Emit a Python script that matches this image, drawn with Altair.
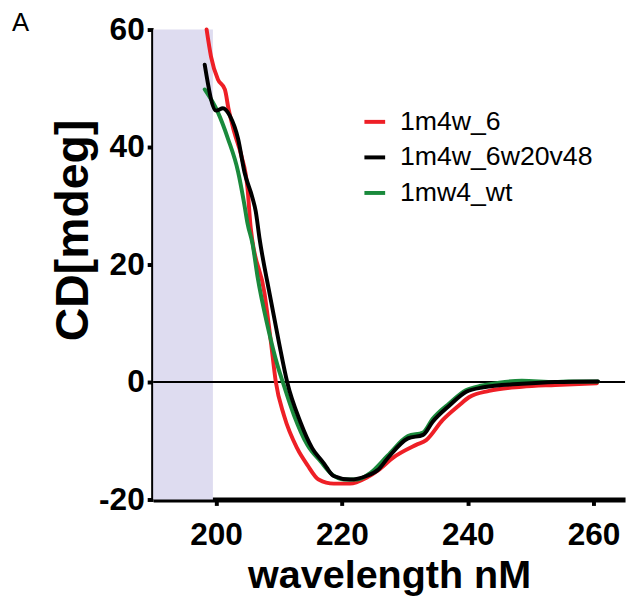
import altair as alt
import pandas as pd

# ---- data ----
names = ["1m4w_6", "1m4w_6w20v48", "1mw4_wt"]
colors = ["#ee1f26", "#000000", "#1a8a3c"]

red_nm = [198.5, 199.2, 200.3, 201.4, 202.0, 202.9, 204.0, 205.0, 205.5, 207.7, 208.7, 209.5,
          210.8, 212.9, 214.5, 216.3, 218.7, 221.3, 223.9, 225.8, 228.1, 231.8, 233.4, 236.0,
          238.6, 240.2, 243.4, 248.6, 253.9, 260.5]
red_cd = [60.0, 55.4, 51.5, 49.8, 46.4, 42.5, 38.6, 33.0, 26.3, 15.1, 7.0, 0.0,
          -5.7, -11.3, -14.1, -16.6, -17.3, -17.3, -16.3, -15.0, -12.9, -10.7, -9.9, -6.5,
          -4.0, -2.6, -1.5, -0.8, -0.5, -0.2]

black_nm = [198.2, 200.0, 201.1, 202.2, 203.5, 204.5, 205.8, 206.3, 206.9, 208.5, 210.0, 211.3,
            213.4, 215.3, 217.1, 217.6, 218.7, 221.3, 223.9, 225.8, 227.4, 230.5, 232.9, 234.4,
            237.1, 239.7, 242.5, 248.6, 253.9, 260.7]
black_cd = [54.0, 46.2, 46.6, 45.3, 41.4, 35.8, 31.3, 29.1, 24.5, 15.1, 6.7, 0.0,
            -6.8, -11.3, -13.8, -14.6, -16.0, -16.6, -16.0, -14.9, -12.8, -9.6, -9.0, -6.8,
            -4.0, -1.7, -0.9, -0.3, 0.0, 0.1]

green_nm = [198.2, 200.3, 201.9, 203.5, 204.5, 205.0, 205.8, 206.6, 208.2, 209.8, 210.6, 212.4,
            214.5, 216.6, 218.4, 220.3, 222.4, 224.5, 227.3, 230.5, 232.9, 234.4, 237.1, 239.7,
            242.3, 245.0, 248.6, 253.9, 256.0, 260.7]
green_cd = [49.8, 45.9, 41.4, 35.8, 30.2, 27.0, 23.5, 17.9, 9.5, 2.7, 0.0, -5.7,
            -10.7, -13.5, -15.7, -16.6, -16.6, -15.5, -12.5, -9.2, -8.6, -6.3, -3.6, -1.4,
            -0.6, -0.1, 0.2, 0.0, 0.1, 0.1]

x_ticks = [200, 220, 240, 260]
y_ticks = [-20, 0, 20, 40, 60]
x_domain = [190, 265]
y_domain = [-20, 60]
shade_start, shade_end = 190, 199.5
panel_label = "A"

FONT = "Liberation Sans"

frames = []
for nm_list, cd_list, name in [(red_nm, red_cd, names[0]),
                               (black_nm, black_cd, names[1]),
                               (green_nm, green_cd, names[2])]:
    frames.append(pd.DataFrame({"nm": nm_list, "cd": cd_list, "series": name}))
df = pd.concat(frames, ignore_index=True)

xenc = alt.X("nm:Q", scale=alt.Scale(domain=x_domain, nice=False, zero=False),
             axis=alt.Axis(values=x_ticks, title="wavelength nM", titleY=89,
                           titleBaseline="alphabetic", labelPadding=15))
yenc = alt.Y("cd:Q", scale=alt.Scale(domain=y_domain, nice=False, zero=False),
             axis=alt.Axis(values=y_ticks, title="CD[mdeg]", titleAngle=-90,
                           titleX=-80, titleY=203, titleAlign="center",
                           titleBaseline="middle", labelPadding=3, titleFontSize=47,
                           labelExpr="datum.value + ''"))

shade_df = pd.DataFrame({"x": [shade_start], "x2": [shade_end],
                         "y": [y_domain[0]], "y2": [y_domain[1]]})
shade = alt.Chart(shade_df).mark_rect(color="#dedcf0").encode(
    x=alt.X("x:Q", scale=alt.Scale(domain=x_domain, nice=False, zero=False)),
    x2="x2:Q",
    y=alt.Y("y:Q", scale=alt.Scale(domain=y_domain, nice=False, zero=False)),
    y2="y2:Q",
)

zero = alt.Chart(pd.DataFrame({"cd": [0]})).mark_rule(color="black", strokeWidth=2).encode(
    y=alt.Y("cd:Q", scale=alt.Scale(domain=y_domain, nice=False, zero=False))
)

label = alt.Chart(pd.DataFrame({"t": [panel_label]})).mark_text(
    font=FONT, fontSize=26, color="black", align="left", baseline="alphabetic"
).encode(text="t:N", x=alt.value(-143), y=alt.value(1))

color = alt.Color("series:N", scale=alt.Scale(domain=names, range=colors),
                  legend=alt.Legend(title=None, orient="none", legendX=211, legendY=80,
                                    symbolType="stroke", symbolStrokeWidth=4, symbolSize=441,
                                    labelFontSize=27, labelFont=FONT, labelOffset=12,
                                    rowPadding=8, padding=0, labelColor="black",
                                    labelLimit=400))

layers = [shade, zero]
for name in [names[0], names[2], names[1]]:
    layers.append(
        alt.Chart(df).transform_filter(alt.datum.series == name)
        .mark_line(strokeWidth=4, interpolate="monotone", strokeJoin="round", strokeCap="round")
        .encode(x=xenc, y=yenc, color=color, order="nm:Q")
    )
layers.append(label)

chart = alt.layer(*layers).properties(
    width=478, height=476,
    padding={"left": 147, "top": 18, "right": 4, "bottom": 100},
    autosize=alt.AutoSizeParams(type="none"),
).configure_axis(
    grid=False, domainColor="black", domainWidth=5, tickColor="black", tickWidth=4,
    tickSize=6, labelFont=FONT, labelFontWeight="bold", labelFontSize=32,
    labelColor="black", titleFont=FONT, titleFontWeight="bold", titleFontSize=40,
    titleColor="black",
).configure_view(strokeWidth=0)

chart.save("out.html", embed_options={"renderer": "svg", "actions": False})
